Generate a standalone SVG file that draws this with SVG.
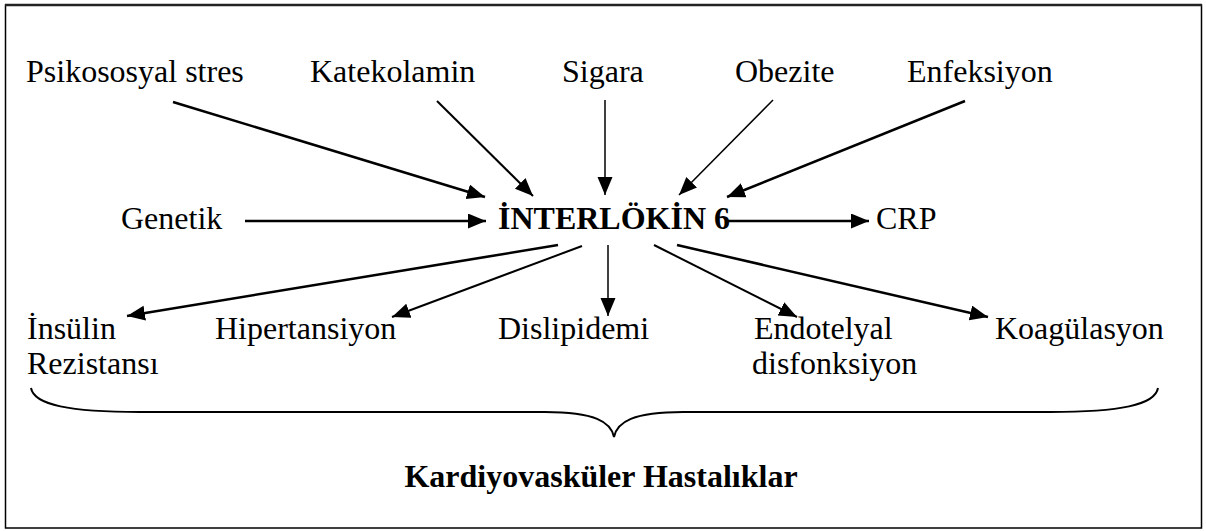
<svg xmlns="http://www.w3.org/2000/svg" width="1206" height="531" viewBox="0 0 1206 531">
<defs>
<marker id="ah" markerUnits="userSpaceOnUse" markerWidth="20" markerHeight="16" refX="18" refY="7.5" orient="auto">
<path d="M0,0 L18,7.5 L0,15 Z" fill="#000"/>
</marker>
<style>
text{font-family:"Liberation Serif","Times New Roman",serif;font-size:32px;fill:#000}
.b{font-weight:bold}
.c{stroke:#000;fill:none;marker-end:url(#ah)}
</style>
</defs>
<rect x="0" y="0" width="1206" height="531" fill="#fff"/>
<g id="frame">
<rect x="5.5" y="5" width="1196" height="523" fill="none" stroke="#000" stroke-width="1.5"/>
<line x1="5" y1="5" x2="1202" y2="5" stroke="#222" stroke-width="2.5"/>
</g>
<g id="connectors">
<line class="c" x1="173" y1="102" x2="485" y2="197" stroke-width="2.5"/>
<line class="c" x1="437" y1="101" x2="533" y2="196" stroke-width="2"/>
<line class="c" x1="605" y1="100" x2="605" y2="195" stroke-width="1.5"/>
<line class="c" x1="773" y1="100" x2="679" y2="195" stroke-width="1.5"/>
<line class="c" x1="965" y1="101" x2="727" y2="197" stroke-width="2.5"/>
<line class="c" x1="245" y1="221" x2="486" y2="221" stroke-width="2.5"/>
<line class="c" x1="728" y1="221" x2="869" y2="221" stroke-width="2.5"/>
<line class="c" x1="558" y1="245" x2="127" y2="316" stroke-width="2.5"/>
<line class="c" x1="582" y1="246" x2="392" y2="317" stroke-width="2"/>
<line class="c" x1="608" y1="245" x2="608" y2="316" stroke-width="1.5"/>
<line class="c" x1="654" y1="245" x2="797" y2="317" stroke-width="2"/>
<line class="c" x1="677" y1="245" x2="988" y2="317" stroke-width="2.5"/>
</g>
<g id="brace">
<path d="M31,388 C34,405 70,412 140,412 L545,412 C595,412 611,422 614,437 C617,422 633,412 683,412 L1050,412 C1120,412 1155,405 1158,388" fill="none" stroke="#000" stroke-width="2"/>
</g>
<g id="psikososyal"><text x="26" y="82">Psikososyal stres</text></g>
<g id="katekolamin"><text x="310" y="82">Katekolamin</text></g>
<g id="sigara"><text x="562" y="82">Sigara</text></g>
<g id="obezite"><text x="735" y="82">Obezite</text></g>
<g id="enfeksiyon"><text x="907" y="82">Enfeksiyon</text></g>
<g id="genetik"><text x="121" y="229">Genetik</text></g>
<g id="il6"><text class="b" x="498" y="229">İNTERLÖKİN 6</text></g>
<g id="crp"><text x="876" y="229">CRP</text></g>
<g id="insulin"><text x="27" y="339">İnsülin</text><text x="27" y="374">Rezistansı</text></g>
<g id="hipertansiyon"><text x="215" y="339">Hipertansiyon</text></g>
<g id="dislipidemi"><text x="498" y="339">Dislipidemi</text></g>
<g id="endotelyal"><text x="754" y="339">Endotelyal</text><text x="752" y="374">disfonksiyon</text></g>
<g id="koagulasyon"><text x="995" y="339">Koagülasyon</text></g>
<g id="kvh"><text class="b" x="601" y="487" text-anchor="middle">Kardiyovasküler Hastalıklar</text></g>
</svg>
